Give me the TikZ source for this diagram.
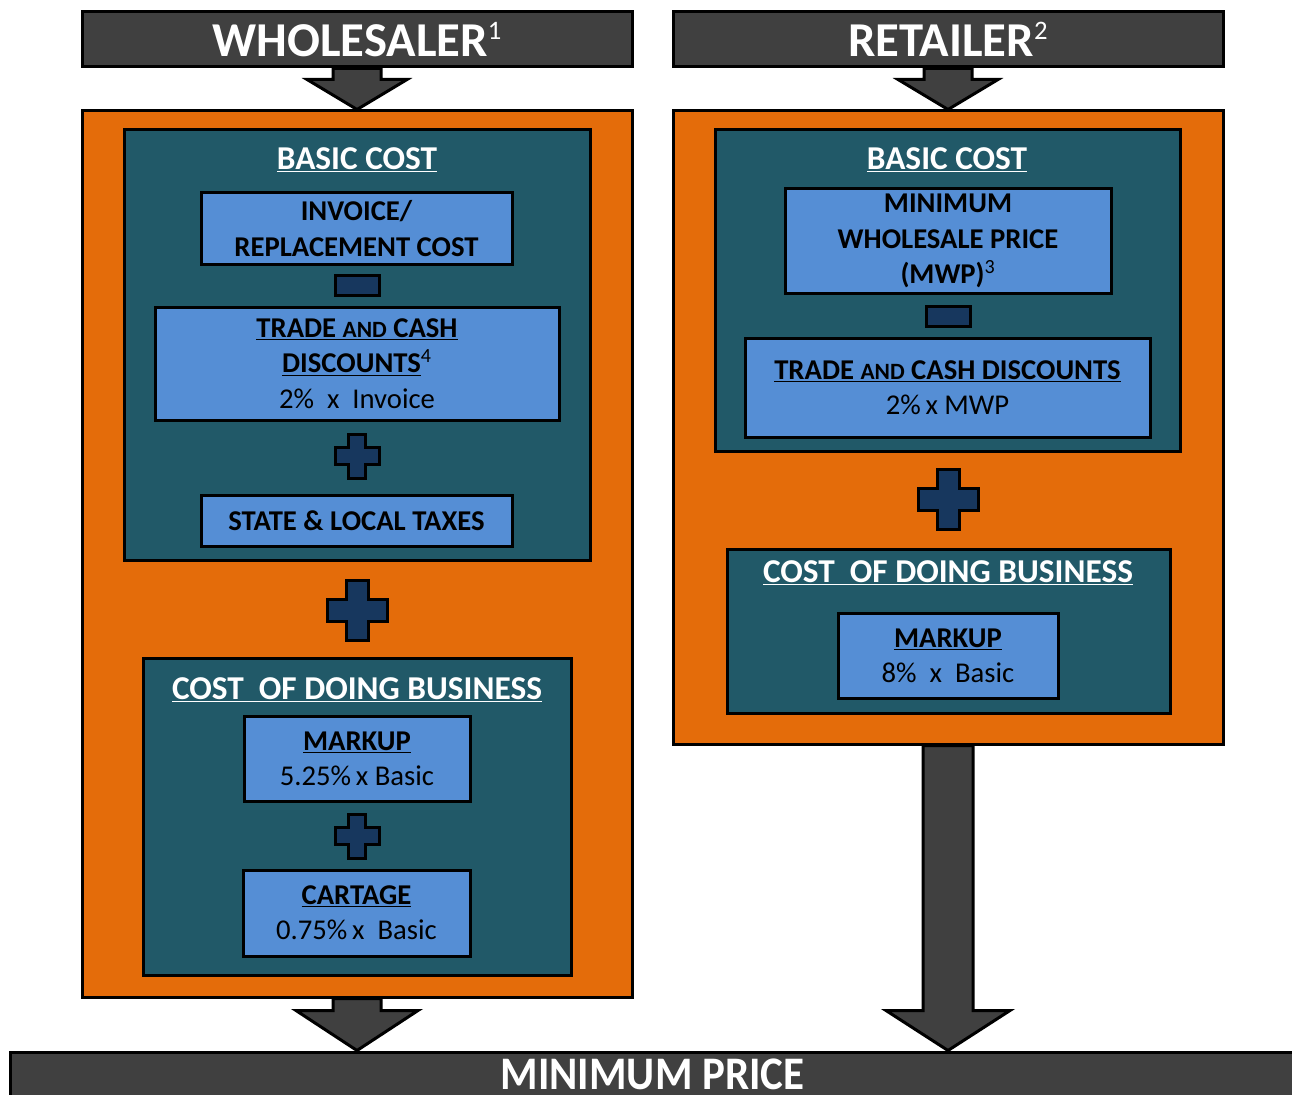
\documentclass[tikz,border=0pt]{standalone}
\usepackage{fontspec}
\setmainfont{Carlito}
\usetikzlibrary{calc}

\definecolor{bardark}{HTML}{404040}
\definecolor{panelorange}{HTML}{E46C0A}
\definecolor{panelteal}{HTML}{215968}
\definecolor{itemblue}{HTML}{558ED5}
\definecolor{signblue}{HTML}{17375E}

\newcommand{\fnote}[1]{\textsuperscript{\mdseries #1}}
\newcommand{\barnote}[1]{\raisebox{13pt}{\mdseries\fontsize{20}{20}\selectfont #1}}
\newcommand{\smcap}[1]{{\fontsize{17.5}{20}\selectfont #1}}
\newcommand{\plain}[1]{{\mdseries #1}}
% block arrow: from, to, stem half width, head half width, head length
\newcommand{\blockarrow}[5]{%
  \path (#1.south |- #2.north) coordinate (tip);
  \draw[arrowshape] ($(#1.south)+(-#3,0)$) -- ($(tip)+(-#3,-#5)$) -- ($(tip)+(-#4,-#5)$)
    -- (tip) -- ($(tip)+(#4,-#5)$) -- ($(tip)+(#3,-#5)$) -- ($(#1.south)+(#3,0)$) -- cycle;}
\newcommand{\minussign}[1]{\draw[opsign, shift={#1}] (-22,-10) rectangle (22,10);}
\newcommand{\plussign}[3]{%
  \draw[opsign, shift={#1}] (-#3,-#2) -- (#3,-#2) -- (#3,-#3) -- (#2,-#3) -- (#2,#3) -- (#3,#3)
    -- (#3,#2) -- (-#3,#2) -- (-#3,#3) -- (-#2,#3) -- (-#2,-#3) -- (-#3,-#3) -- cycle;}

\tikzset{
  every node/.style={inner sep=0pt, line width=2.25pt},
  sized/.style 2 args={minimum width=#1*0.75pt, minimum height=#2*0.75pt},
  bar/.style={draw=black, fill=bardark, text=white, font=\bfseries\fontsize{36.5}{40}\selectfont},
  outer/.style={draw=black, fill=panelorange},
  group/.style={draw=black, fill=panelteal},
  heading/.style={text=white, font=\bfseries\fontsize{25}{30}\selectfont},
  item/.style={draw=black, fill=itemblue, align=center, font=\bfseries\fontsize{21.5}{26.5}\selectfont},
  opsign/.style={draw=black, fill=signblue, line width=2.25pt, line join=miter},
  arrowshape/.style={draw=black, fill=bardark, line width=2.25pt, line join=miter}
}

\begin{document}
\begin{tikzpicture}[x=0.75pt,y=-0.75pt]
\useasboundingbox (0,0) rectangle (1292,1095);
\clip (0,0) rectangle (1292,1095);

% wholesaler side
\node[bar, sized={550}{55}] (whbar) at (357,39.5) {WHOLESALER\barnote{1}};
\node[outer, sized={550}{886}] (whpanel) at (357,554) {};
\node[group, sized={466}{430}] (whbasic) at (357,345) {};
\node[heading] (whbasict) at (357,160) {\underline{BASIC COST}};
\node[item, sized={311}{71}] (invoice) at (356.5,228.5) {INVOICE/\\REPLACEMENT COST};
\minussign{(357,285)}
\node[item, sized={404}{113}] (whdisc) at (357,363.5)
  {\underline{TRADE \smcap{AND} CASH}\\\underline{DISCOUNTS}\fnote{4}\\\plain{2\%\ \ x\ \ Invoice}};
\plussign{(357,456)}{22}{8.5}
\node[item, sized={311}{51}] (taxes) at (356.5,520.5) {STATE \& LOCAL TAXES};
\plussign{(357,610)}{30}{11}
\node[group, sized={428}{317}] (whcost) at (357,816.5) {};
\node[heading] (whcostt) at (357,690) {\underline{COST\ \ OF DOING BUSINESS}};
\node[item, sized={226}{85}] (whmarkup) at (357,758.5) {\underline{MARKUP}\\\plain{5.25\%\,x Basic}};
\plussign{(357,836)}{22}{8.5}
\node[item, sized={227}{86}] (cartage) at (356.5,913) {\underline{CARTAGE}\\\plain{0.75\%\,x\ \ Basic}};

% retailer side
\node[bar, sized={550}{55}] (rtbar) at (948,39.5) {RETAILER\barnote{2}};
\node[outer, sized={550}{633}] (rtpanel) at (948,427.5) {};
\node[group, sized={465}{321}] (rtbasic) at (947.5,290.5) {};
\node[heading] (rtbasict) at (947,160) {\underline{BASIC COST}};
\node[item, sized={326}{104}] (mwp) at (948,241) {MINIMUM\\WHOLESALE PRICE\\(MWP)\fnote{3}};
\minussign{(948,316)}
\node[item, sized={405}{99}] (rtdisc) at (947.5,387.5)
  {\underline{TRADE \smcap{AND} CASH DISCOUNTS}\\\plain{2\%\,x MWP}};
\plussign{(948,499)}{30}{11}
\node[group, sized={443}{164}] (rtcost) at (948.5,631) {};
\node[heading] (rtcostt) at (948,573) {\underline{COST\ \ OF DOING BUSINESS}};
\node[item, sized={220}{85}] (rtmarkup) at (948,655.5) {\underline{MARKUP}\\\plain{8\%\ \ x\ \ Basic}};

% result
\node[bar, sized={1285}{48}, font=\bfseries\fontsize{35}{40}\selectfont] (minbar) at (652.5,1076)
  {\raisebox{2pt}{\scalebox{0.92}[1]{MINIMUM PRICE}}};

\blockarrow{whbar}{whpanel}{24}{50}{30}
\blockarrow{rtbar}{rtpanel}{24}{50}{30}
\blockarrow{whpanel}{minbar}{24}{61}{40}
\blockarrow{rtpanel}{minbar}{25}{62}{40}
\end{tikzpicture}
\end{document}
